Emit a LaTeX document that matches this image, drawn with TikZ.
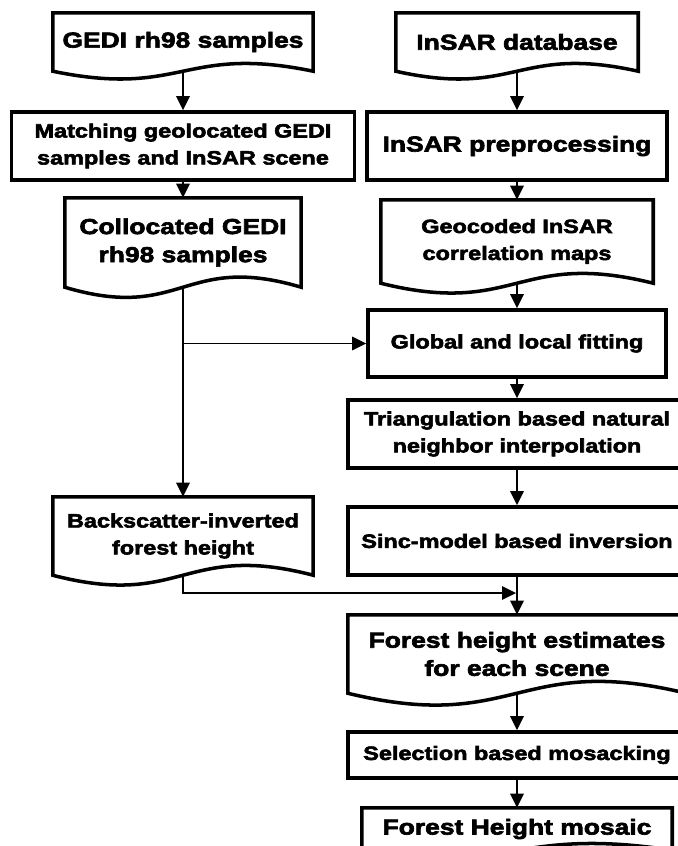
\documentclass[tikz,border=0pt]{standalone}
\usepackage{fontspec}
\newfontfamily\boxfont{Liberation Sans Bold}[FakeStretch=1.22,FakeBold=3]
\usetikzlibrary{arrows,arrows.meta,positioning}

\newcommand{\pxu}{0.03cm}
% wavy bottom for document boxes: #1 node, #2 control offset
\newcommand{\docoutline}[2]{%
  \draw[line width=3pt, line join=miter] (#1.north west) -- (#1.south west)
    .. controls ([yshift=-#2]#1.south) and ([yshift=#2]#1.south) .. (#1.south east)
    -- (#1.north east) -- cycle;}

\begin{document}
\begin{tikzpicture}[x=0.03cm,y=-0.03cm]
\tikzstyle{big}=[font=\boxfont\fontsize{18.5pt}{24pt}\selectfont]
\tikzstyle{small}=[font=\boxfont\fontsize{16.4pt}{23pt}\selectfont]
\tikzstyle{proc}=[draw, line width=3pt, fill=white, inner sep=0pt, align=center]
\tikzstyle{doc}=[inner sep=0pt, align=center]
\tikzstyle{arr}=[line width=1.5pt, -{Triangle[length=12pt,width=11.5pt]}]

\useasboundingbox (0,0) rectangle (678,846);

% left column
\node[doc, big, minimum width=260*\pxu, minimum height=58*\pxu] (gedi) at (183,42) {GEDI rh98 samples};
\node[proc, small, minimum width=343*\pxu, minimum height=68*\pxu] (match) at (183,146) {Matching geolocated GEDI\\samples and InSAR scene};
\node[doc, big, minimum width=236*\pxu, minimum height=89*\pxu] (coll) at (183,242.5) {Collocated GEDI\\rh98 samples};
\node[doc, small, minimum width=260*\pxu, minimum height=78*\pxu] (back) at (183,536) {Backscatter-inverted\\forest height};

% right column
\node[doc, big, minimum width=242*\pxu, minimum height=58*\pxu] (insdb) at (517,42) {InSAR database};
\node[proc, big, minimum width=300*\pxu, minimum height=68*\pxu] (prep) at (517,146) {InSAR preprocessing};
\node[doc, small, minimum width=272*\pxu, minimum height=83*\pxu] (geo) at (517,241.5) {Geocoded InSAR\\correlation maps};
\node[proc, small, minimum width=298*\pxu, minimum height=67*\pxu] (glob) at (517,343.5) {Global and local fitting};
\node[proc, small, minimum width=338*\pxu, minimum height=68*\pxu] (tri) at (517,434) {Triangulation based natural\\neighbor interpolation};
\node[proc, small, minimum width=338*\pxu, minimum height=68*\pxu] (sinc) at (517,541) {Sinc-model based inversion};
\node[doc, big, minimum width=338*\pxu, minimum height=78*\pxu] (forest) at (517,654) {Forest height estimates\\for each scene};
\node[proc, small, minimum width=338*\pxu, minimum height=46*\pxu] (sel) at (517,755) {Selection based mosacking};
\node[doc, big, minimum width=310*\pxu, minimum height=42*\pxu] (mosaic) at (517,829) {Forest Height mosaic};

\foreach \n/\k in {gedi/23pt, coll/30pt, back/29pt, insdb/23pt, geo/29pt, forest/35pt, mosaic/20pt}
  \docoutline{\n}{\k};

\coordinate (join) at (517,593);

% connectors
\draw[arr] (gedi.south) -- (match.north);
\draw[arr] (match.south) -- (coll.north);
\draw[arr] (coll.south) -- (back.north);
\draw[arr] (coll.south |- glob.west) -- (glob.west);
\draw[arr] (insdb.south) -- (prep.north);
\draw[arr] (prep.south) -- (geo.north);
\draw[arr] (geo.south) -- (glob.north);
\draw[arr] (glob.south) -- (tri.north);
\draw[arr] (tri.south) -- (sinc.north);
\draw[arr] (sinc.south) -- (forest.north);
\draw[arr, shorten >=0.8pt] (back.south) |- (join);
\draw[arr] (forest.south) -- (sel.north);
\draw[arr] (sel.south) -- (mosaic.north);
\end{tikzpicture}
\end{document}
